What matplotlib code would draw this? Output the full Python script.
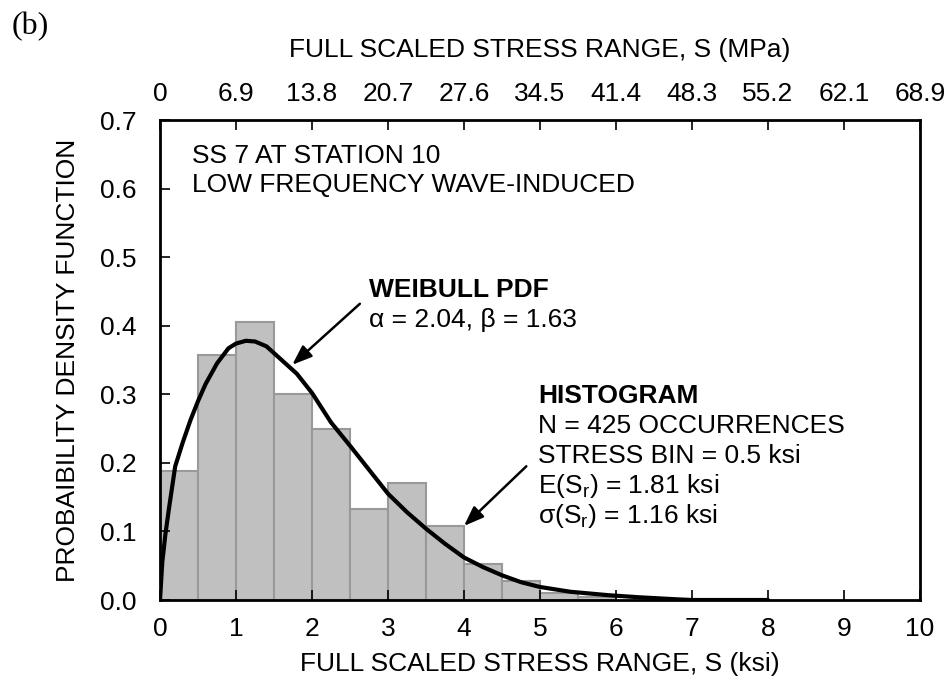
import numpy as np
import matplotlib
matplotlib.use("Agg")
import matplotlib.pyplot as plt

# histogram of full scaled stress range (ksi), bin = 0.5 ksi, density
bin_left = [0.0, 0.5, 1.0, 1.5, 2.0, 2.5, 3.0, 3.5, 4.0, 4.5, 5.0, 5.5]
bin_density = [0.188, 0.357, 0.405, 0.300, 0.250, 0.132, 0.170, 0.108,
               0.053, 0.028, 0.010, 0.005]

# fitted Weibull pdf
pdf_x = [0.0, 0.03, 0.07, 0.12, 0.2, 0.3, 0.4, 0.5, 0.6, 0.75, 0.9, 1.0,
         1.13, 1.25, 1.4, 1.6, 1.8, 2.0, 2.25, 2.5, 2.75, 3.0, 3.25, 3.5,
         3.75, 4.0, 4.25, 4.5, 4.75, 5.0, 5.4, 5.9, 6.3, 6.8, 7.0, 8.0]
pdf_y = [0.0, 0.055, 0.095, 0.135, 0.195, 0.230, 0.262, 0.290, 0.315, 0.345,
         0.367, 0.374, 0.378, 0.377, 0.370, 0.350, 0.330, 0.302, 0.259, 0.225,
         0.190, 0.155, 0.128, 0.104, 0.082, 0.062, 0.048, 0.036, 0.026, 0.019,
         0.012, 0.007, 0.004, 0.001, 0.0, 0.0]

ksi_ticks = list(range(0, 11))
mpa_labels = ["0", "6.9", "13.8", "20.7", "27.6", "34.5", "41.4", "48.3",
              "55.2", "62.1", "68.9"]

plt.rcParams['font.family'] = ['Liberation Sans', 'DejaVu Sans']
fs = 19

fig = plt.figure(figsize=(9.51, 6.85), dpi=100)
ax = fig.add_axes([160/951, 1 - 600/685, 760/951, 480/685])

ax.bar(bin_left, bin_density, width=0.5, align='edge', color='#c0c0c0',
       edgecolor='#999999', linewidth=1.5, zorder=1)
ax.plot(pdf_x, pdf_y, color='black', lw=3, zorder=3, solid_capstyle='round')

ax.set_xlim(0, 10)
ax.set_ylim(0, 0.7)
ax.set_xticks(ksi_ticks)
ax.set_xticklabels([str(t) for t in ksi_ticks])
ax.set_yticks(np.arange(0, 0.71, 0.1))
ax.set_yticklabels(["%.1f" % v for v in np.arange(0, 0.71, 0.1)])
ax.tick_params(direction='in', length=7, width=1.2, labelsize=fs)
ax.tick_params(axis='x', pad=12)
ax.tick_params(axis='y', pad=17)
for s in ax.spines.values():
    s.set_linewidth(2)
ax.set_xlabel("FULL SCALED STRESS RANGE, S (ksi)", fontsize=fs, labelpad=8)
ax.set_ylabel("PROBAIBILITY DENSITY FUNCTION", fontsize=fs, labelpad=14)

top = ax.secondary_xaxis('top')
top.set_xticks(ksi_ticks)
top.set_xticklabels(mpa_labels)
top.tick_params(direction='in', length=7, width=1.2, labelsize=fs, pad=10)
top.set_xlabel("FULL SCALED STRESS RANGE, S (MPa)", fontsize=fs, labelpad=18)

ax.text(0.42, 0.647, "SS 7 AT STATION 10", fontsize=fs, va='center')
ax.text(0.42, 0.605, "LOW FREQUENCY WAVE-INDUCED", fontsize=fs, va='center')

ax.text(2.75, 0.452, "WEIBULL PDF", fontsize=fs, fontweight='bold', va='center')
ax.text(2.75, 0.408, "α = 2.04, β = 1.63", fontsize=fs, va='center')
ax.annotate("", xy=(1.74, 0.343), xytext=(2.63, 0.432),
            arrowprops=dict(arrowstyle='-|>,head_length=1.2,head_width=0.45',
                            color='black', lw=1.8, shrinkA=0, shrinkB=0))

hx = 4.98
ax.text(hx, 0.298, "HISTOGRAM", fontsize=fs, fontweight='bold', va='center')
ax.text(hx, 0.254, "N = 425 OCCURRENCES", fontsize=fs, va='center')
ax.text(hx, 0.210, "STRESS BIN = 0.5 ksi", fontsize=fs, va='center')
ax.text(hx, 0.166, r"E(S$_\mathregular{r}$) = 1.81 ksi", fontsize=fs, va='center')
ax.text(hx, 0.122, r"σ(S$_\mathregular{r}$) = 1.16 ksi", fontsize=fs, va='center')
ax.annotate("", xy=(4.0, 0.108), xytext=(4.82, 0.195),
            arrowprops=dict(arrowstyle='-|>,head_length=1.2,head_width=0.45',
                            color='black', lw=1.8, shrinkA=0, shrinkB=0))

fig.text(12/951, 1 - 27/685, "(b)", fontsize=23, family='Liberation Serif', va='center')

fig.savefig("out.png", dpi=100)
